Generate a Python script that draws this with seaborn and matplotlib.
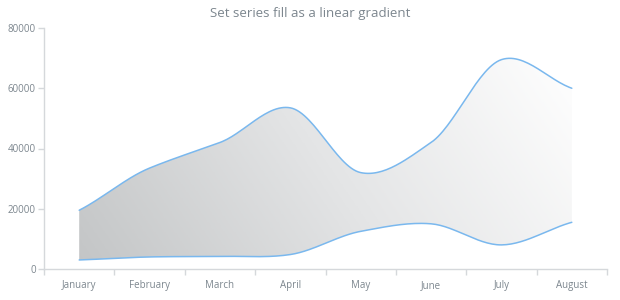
import numpy as np
import pandas as pd
import matplotlib
matplotlib.use("Agg")
import matplotlib.pyplot as plt
from matplotlib.colors import LinearSegmentedColormap
from matplotlib.patches import PathPatch
import seaborn as sns

months = ["January", "February", "March", "April", "May", "June", "July", "August"]
high = [19500, 33500, 42000, 53500, 32000, 42000, 69500, 60000]
low = [3000, 4000, 4200, 4800, 12500, 15000, 8000, 15500]
y_ticks = [0, 20000, 40000, 60000, 80000]
title = "Set series fill as a linear gradient"

sns.set_theme(style="white")
plt.rcParams["font.family"] = ["Open Sans", "DejaVu Sans"]

TXT = "#7c868e"
AX = "#d5d8db"
LINE = "#7ab8ee"


def smooth(xs, ys, n=30, tension=0.85):
    xs = np.asarray(xs, float)
    ys = np.asarray(ys, float)
    px = np.concatenate([[2 * xs[0] - xs[1]], xs, [2 * xs[-1] - xs[-2]]])
    py = np.concatenate([[2 * ys[0] - ys[1]], ys, [2 * ys[-1] - ys[-2]]])
    ox, oy = [], []
    for i in range(1, len(px) - 2):
        t = np.linspace(0, 1, n, endpoint=(i == len(px) - 3))
        p1, p2 = py[i], py[i + 1]
        m1 = tension * (py[i + 1] - py[i - 1]) / 2
        m2 = tension * (py[i + 2] - py[i]) / 2
        h00 = 2 * t ** 3 - 3 * t ** 2 + 1
        h10 = t ** 3 - 2 * t ** 2 + t
        h01 = -2 * t ** 3 + 3 * t ** 2
        h11 = t ** 3 - t ** 2
        yy = h00 * p1 + h10 * m1 + h01 * p2 + h11 * m2
        xx = px[i] + (px[i + 1] - px[i]) * t
        ox.append(xx)
        oy.append(yy)
    return np.concatenate(ox), np.concatenate(oy)


x = np.arange(len(months))
hx, hy = smooth(x, high)
lx, ly = smooth(x, low)
df_h = pd.DataFrame({"x": hx, "y": hy})
df_l = pd.DataFrame({"x": lx, "y": ly})

fig = plt.figure(figsize=(6.2, 3.0), dpi=100)
ax = fig.add_axes([44 / 620, 31 / 300, (607 - 44) / 620, (269 - 28) / 300])

# gradient fill clipped to range area
poly = ax.fill_between(hx, ly, hy, color="none", lw=0)
cmap = LinearSegmentedColormap.from_list("g", ["#c3c5c6", "#e4e5e6", "#ffffff"])
ny, nx = 200, 400
GX, GY = np.meshgrid(np.linspace(0, 1, nx), np.linspace(0, 1, ny))
W, H = 563.0, 241.0
ang = np.deg2rad(35)
t = (GX * W * np.cos(ang) + GY * H * np.sin(ang)) / (W * np.cos(ang) + H * np.sin(ang))
img = ax.imshow(t, cmap=cmap, origin="lower", aspect="auto",
                extent=[0, len(months) - 1, 0, 72000], zorder=1)
patch = PathPatch(poly.get_paths()[0], transform=ax.transData, facecolor="none", edgecolor="none")
ax.add_patch(patch)
img.set_clip_path(patch)
ax.set_xlim(-0.5, len(months) - 0.5)
ax.set_ylim(0, 80000)

sns.lineplot(data=df_h, x="x", y="y", ax=ax, color=LINE, lw=1.1, sort=False, zorder=3)
sns.lineplot(data=df_l, x="x", y="y", ax=ax, color=LINE, lw=1.1, sort=False, zorder=3)

ax.set_xlabel("")
ax.set_ylabel("")
for s in ["top", "right"]:
    ax.spines[s].set_visible(False)
for s in ["left", "bottom"]:
    ax.spines[s].set_color(AX)
    ax.spines[s].set_linewidth(1)

ax.set_xticks(x)
ax.set_xticklabels(months)
ax.set_xticks(np.arange(-0.5, len(months)), minor=True)
ax.tick_params(axis="x", which="major", length=0, pad=8, labelsize=7, labelcolor=TXT)
ax.tick_params(axis="x", which="minor", length=4, color=AX, width=1, bottom=True)
ax.set_yticks(y_ticks)
ax.set_yticklabels([str(v) for v in y_ticks])
ax.tick_params(axis="y", which="major", length=4, color=AX, width=1, pad=2,
               labelsize=7, labelcolor=TXT, left=True)

fig.text(0.5, 1 - 14 / 300, title, ha="center", va="center", fontsize=9.5, color=TXT)

fig.savefig("out.png", dpi=100)
